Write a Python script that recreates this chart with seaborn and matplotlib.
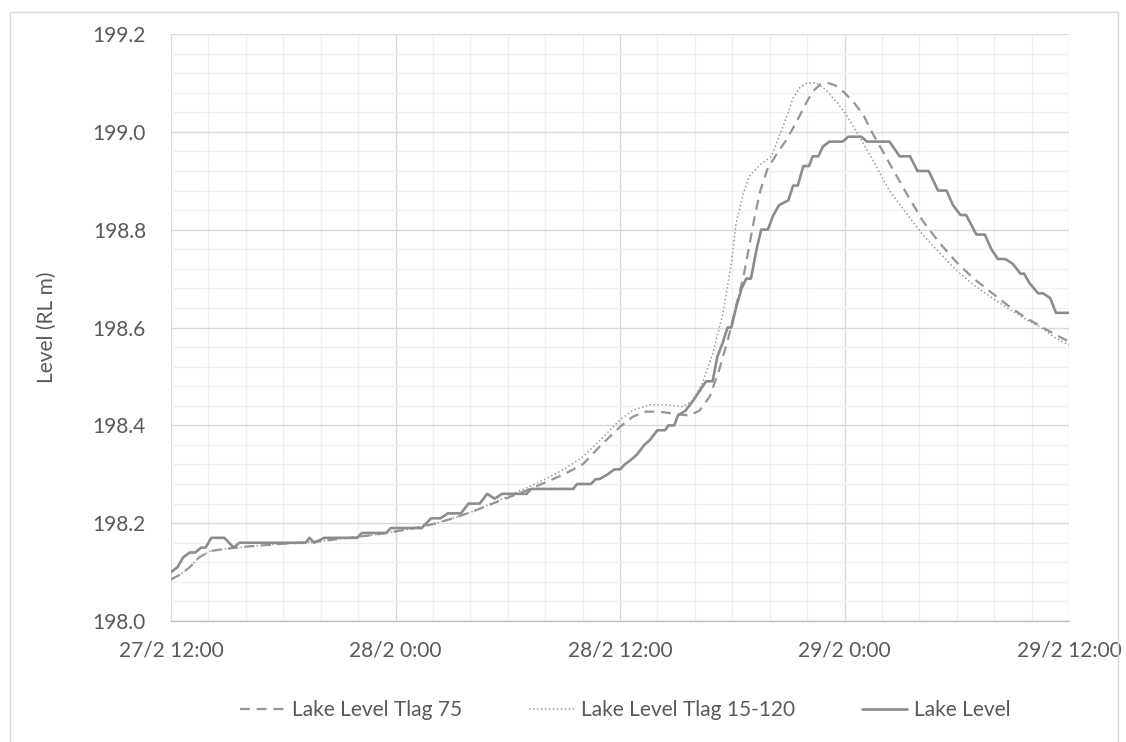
import numpy as np
import pandas as pd
import matplotlib
matplotlib.use("Agg")
import matplotlib.pyplot as plt
import matplotlib.patches as patches
from matplotlib.ticker import MultipleLocator
import seaborn as sns

# hours after 27/2 12:00
lake_h = [0.0, 0.35, 0.65, 1.0, 1.3, 1.6, 1.85, 2.15, 2.85, 3.35, 3.65, 7.2, 7.4, 7.65, 8.2,
          9.95, 10.2, 11.5, 11.75, 13.4, 13.9, 14.4, 14.8, 15.5, 15.9, 16.5, 16.9, 17.3, 17.7,
          19.0, 19.25, 21.5, 21.7, 22.45, 22.7, 22.9, 23.35, 23.7, 24.0, 24.25, 24.6, 24.9,
          25.3, 25.6, 26.0, 26.4, 26.6, 26.9, 27.1, 27.5, 27.9, 28.25, 28.6, 28.95, 29.2, 29.5,
          29.75, 29.95, 30.2, 30.5, 30.75, 31.0, 31.3, 31.55, 31.9, 32.2, 32.5, 33.0, 33.25,
          33.5, 33.8, 34.1, 34.3, 34.6, 34.85, 35.2, 35.9, 36.2, 36.9, 37.2, 38.4, 38.95, 39.5,
          39.9, 40.5, 41.0, 41.45, 41.8, 42.2, 42.5, 43.05, 43.5, 43.85, 44.2, 44.6, 45.0, 45.4,
          45.6, 45.9, 46.35, 46.6, 47.0, 47.3, 48.0]
lake_v = [198.10, 198.11, 198.13, 198.14, 198.14, 198.15, 198.15, 198.17, 198.17, 198.15, 198.16,
          198.16, 198.17, 198.16, 198.17, 198.17, 198.18, 198.18, 198.19, 198.19, 198.21, 198.21,
          198.22, 198.22, 198.24, 198.24, 198.26, 198.25, 198.26, 198.26, 198.27, 198.27, 198.28,
          198.28, 198.29, 198.29, 198.30, 198.31, 198.31, 198.32, 198.33, 198.34, 198.36, 198.37,
          198.39, 198.39, 198.40, 198.40, 198.42, 198.43, 198.45, 198.47, 198.49, 198.49, 198.54,
          198.57, 198.60, 198.60, 198.64, 198.68, 198.70, 198.70, 198.76, 198.80, 198.80, 198.83,
          198.85, 198.86, 198.89, 198.89, 198.93, 198.93, 198.95, 198.95, 198.97, 198.98, 198.98,
          198.99, 198.99, 198.98, 198.98, 198.95, 198.95, 198.92, 198.92, 198.88, 198.88, 198.85,
          198.83, 198.83, 198.79, 198.79, 198.76, 198.74, 198.74, 198.73, 198.71, 198.71, 198.69,
          198.67, 198.67, 198.66, 198.63, 198.63]

tlag75_h = [0.0, 0.5, 1.0, 1.5, 2.1, 3.0, 4.0, 5.0, 6.0, 7.0, 8.0, 9.0, 10.0, 11.0, 12.0, 13.0,
            14.0, 15.0, 16.0, 17.0, 18.0, 19.0, 20.0, 21.0, 22.0, 23.0, 24.0, 24.7, 25.4, 26.1,
            27.0, 27.7, 28.25, 28.8, 29.3, 29.8, 30.2, 30.6, 30.9, 31.2, 31.5, 31.9, 32.35, 32.9,
            33.4, 33.95, 34.3, 34.7, 35.1, 35.5, 36.0, 36.5, 37.0, 37.5, 38.4, 39.3, 40.2, 41.1,
            41.95, 42.9, 43.8, 44.7, 45.6, 46.5, 47.3, 48.0]
tlag75_v = [198.085, 198.095, 198.11, 198.13, 198.143, 198.148, 198.152, 198.155, 198.158, 198.16,
            198.163, 198.168, 198.172, 198.177, 198.183, 198.19, 198.198, 198.209, 198.222,
            198.237, 198.252, 198.267, 198.283, 198.30, 198.32, 198.36, 198.397, 198.418, 198.428,
            198.428, 198.423, 198.42, 198.43, 198.459, 198.513, 198.58, 198.643, 198.704, 198.765,
            198.827, 198.88, 198.926, 198.953, 198.984, 199.018, 199.059, 199.082, 199.097, 199.10,
            199.095, 199.08, 199.06, 199.035, 198.997, 198.936, 198.875, 198.817, 198.772, 198.735,
            198.70, 198.673, 198.646, 198.622, 198.602, 198.585, 198.571]

tlag15_h = [0.0, 0.5, 1.0, 1.5, 2.1, 3.0, 4.0, 5.0, 6.0, 7.0, 8.0, 9.0, 10.0, 11.0, 12.0, 13.0,
            14.0, 15.0, 16.0, 17.0, 18.0, 19.0, 20.0, 21.0, 22.0, 23.0, 24.0, 24.7, 25.6, 26.5,
            27.4, 27.9, 28.4, 28.96, 29.5, 29.95, 30.2, 30.6, 30.9, 31.5, 32.1, 32.5, 32.9, 33.25,
            33.6, 34.0, 34.5, 35.0, 35.6, 36.1, 36.8, 37.5, 38.4, 39.3, 40.2, 41.1, 41.95, 42.9,
            43.8, 44.7, 45.6, 46.5, 47.3, 48.0]
tlag15_v = [198.085, 198.095, 198.11, 198.13, 198.143, 198.148, 198.152, 198.155, 198.158, 198.16,
            198.163, 198.168, 198.172, 198.177, 198.183, 198.19, 198.198, 198.209, 198.222,
            198.238, 198.255, 198.272, 198.29, 198.31, 198.335, 198.372, 198.411, 198.431, 198.442,
            198.442, 198.438, 198.452, 198.486, 198.547, 198.629, 198.731, 198.813, 198.875,
            198.909, 198.933, 198.95, 198.99, 199.03, 199.069, 199.09, 199.10, 199.10, 199.086,
            199.06, 199.035, 198.99, 198.943, 198.88, 198.834, 198.789, 198.752, 198.718, 198.687,
            198.663, 198.64, 198.619, 198.60, 198.578, 198.564]

x_ticks = [0, 12, 24, 36, 48]
x_labels = ["27/2 12:00", "28/2 0:00", "28/2 12:00", "29/2 0:00", "29/2 12:00"]
y_ticks = [198.0, 198.2, 198.4, 198.6, 198.8, 199.0, 199.2]

sns.set_style("white")
plt.rcParams['font.family'] = ['Lato', 'DejaVu Sans']

fig = plt.figure(figsize=(11.26, 7.42), dpi=100)
ax = fig.add_axes([171 / 1126, 1 - 621 / 742, (1069 - 171) / 1126, (621 - 34) / 742])

df75 = pd.DataFrame({"h": tlag75_h, "level": tlag75_v})
df15 = pd.DataFrame({"h": tlag15_h, "level": tlag15_v})
dfl = pd.DataFrame({"h": lake_h, "level": lake_v})

sns.lineplot(data=df75, x="h", y="level", ax=ax, color="#959595", lw=1.6,
             linestyle=(0, (4.5, 3)), estimator=None, label="Lake Level Tlag 75")
sns.lineplot(data=df15, x="h", y="level", ax=ax, color="#9a9a9a", lw=1.1,
             linestyle=(0, (1, 1.6)), estimator=None, label="Lake Level Tlag 15-120")
sns.lineplot(data=dfl, x="h", y="level", ax=ax, color="#8c8c8c", lw=1.9,
             estimator=None, label="Lake Level")

ax.set_xlim(0, 48)
ax.set_ylim(198.0, 199.2)
ax.set_xticks(x_ticks)
ax.set_xticklabels(x_labels)
ax.set_yticks(y_ticks)
ax.set_yticklabels([f"{v:.1f}" for v in y_ticks])
ax.xaxis.set_minor_locator(MultipleLocator(2))
ax.yaxis.set_minor_locator(MultipleLocator(0.04))
ax.grid(which="major", color="#d9d9d9", lw=1.0)
ax.grid(which="minor", color="#f0f0f0", lw=1.0)
ax.set_axisbelow(True)
ax.tick_params(which="both", length=0, labelsize=15, labelcolor="#595959")
ax.tick_params(axis="x", pad=14)
ax.tick_params(axis="y", pad=18)
ax.set_xlabel("")
ax.set_ylabel("Level (RL m)", fontsize=15, color="#595959", labelpad=26)
for s in ["top", "right", "left"]:
    ax.spines[s].set_visible(False)
ax.spines["bottom"].set_color("#bfbfbf")
ax.spines["bottom"].set_linewidth(1.0)

ax.legend(loc="center", bbox_to_anchor=(625 / 1126, 1 - 710 / 742), bbox_transform=fig.transFigure,
          ncol=3, frameon=False, fontsize=15, labelcolor="#595959", handlelength=2.2,
          handletextpad=0.3, columnspacing=3.2)

# light chart-area frame, cut by the screenshot at the bottom
fig.patches.append(patches.Rectangle((10 / 1126, -0.01), (1118 - 10) / 1126, 1 - 12 / 742 + 0.01,
                                     transform=fig.transFigure, fill=False, edgecolor="#d9d9d9", lw=1))

fig.savefig("out.png", dpi=100)
